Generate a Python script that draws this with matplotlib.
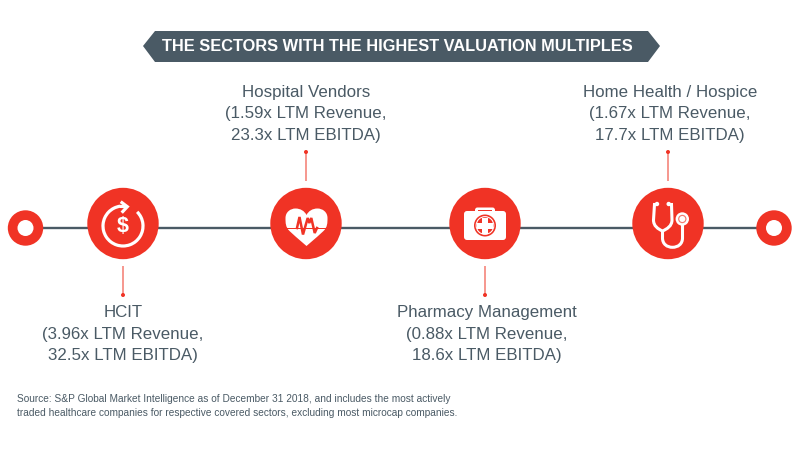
import numpy as np
import matplotlib
matplotlib.use("Agg")
import matplotlib.pyplot as plt
from matplotlib.patches import Circle, Polygon, Arc, FancyBboxPatch, PathPatch, Rectangle
from matplotlib.path import Path

title = "THE SECTORS WITH THE HIGHEST VALUATION MULTIPLES"
sectors = ["HCIT", "Hospital Vendors", "Pharmacy Management", "Home Health / Hospice"]
revenue = ["3.96x", "1.59x", "0.88x", "1.67x"]
ebitda = ["32.5x", "23.3x", "18.6x", "17.7x"]
source = ("Source: S&P Global Market Intelligence as of December 31 2018, and includes the most actively\n"
          "traded healthcare companies for respective covered sectors, excluding most microcap companies.")

RED = "#f03325"
SLATE = "#4a5a65"
PINK = "#f47a70"
FONT = "Liberation Sans"

centers = [123, 306, 485, 668]
cy = 223.5
line_y = 228

fig = plt.figure(figsize=(8, 4.5), dpi=100)
ax = fig.add_axes([0, 0, 1, 1])
ax.set_xlim(0, 800)
ax.set_ylim(450, 0)
ax.axis("off")

M, L, C = Path.MOVETO, Path.LINETO, Path.CURVE4


def bez(start, *segments):
    """Build a path from a start point and line (1 point) / cubic (3 point) segments."""
    verts, codes = [start], [M]
    for seg in segments:
        if len(seg) == 1:
            verts += seg
            codes += [L]
        else:
            verts += seg
            codes += [C, C, C]
    return Path(verts, codes)


# Banner
ax.add_patch(Polygon([(143, 46), (155, 31), (648, 31), (660, 46), (648, 62), (155, 62)],
                     closed=True, fc=SLATE, ec="none"))
ax.text(397, 46.5, title, ha="center", va="center", color="white", fontsize=11.8,
        fontweight="bold", family=FONT)

# Timeline
ax.plot([25, 774], [line_y, line_y], color=SLATE, lw=1.7, solid_capstyle="butt", zorder=1)
for x in (25.5, 774):
    ax.add_patch(Circle((x, line_y), 17.7, fc=RED, ec="none", zorder=2))
    ax.add_patch(Circle((x, line_y), 8, fc="white", ec="none", zorder=3))
for x in centers:
    ax.add_patch(Circle((x, cy), 35.7, fc=RED, ec="none", zorder=2))

Z = 4
# Icon 1: circular arrow with dollar sign
x0, y0 = centers[0], 226
ax.add_patch(Arc((x0, y0), 40, 40, theta1=-45, theta2=262, ec="white", lw=2.3, zorder=Z))
ax.plot([x0 - 2.3, x0 + 4.3, x0 - 1.3], [201.7, 206.7, 212.7], color="white", lw=2.3,
        zorder=Z + 1, solid_joinstyle="miter", solid_capstyle="butt")
ax.plot([x0 - 3, x0 + 3], [206.4, 206.6], color="white", lw=2.3, zorder=Z + 1, solid_capstyle="butt")
ax.text(x0 - 0.5, 226.5, "$", ha="center", va="center", color="white", fontsize=15.5,
        fontweight="bold", family=FONT, zorder=Z)

# Icon 2: heart with pulse
x0 = centers[1] + 0.5
left = [((x0 - 8, 239), (x0 - 14, 234), (x0 - 17, 231)),
        ((x0 - 21, 227), (x0 - 21, 223), (x0 - 21, 218)),
        ((x0 - 21, 212), (x0 - 16, 208.5), (x0 - 11, 208.5)),
        ((x0 - 6, 208.5), (x0 - 2, 211), (x0, 215))]
right = [((x0 + 2, 211), (x0 + 6, 208.5), (x0 + 11, 208.5)),
         ((x0 + 16, 208.5), (x0 + 21, 212), (x0 + 21, 218)),
         ((x0 + 21, 223), (x0 + 21, 227), (x0 + 17, 231)),
         ((x0 + 14, 234), (x0 + 8, 239), (x0, 246))]
heart = bez((x0, 246), *[list(s) for s in left], *[list(s) for s in right])
ax.add_patch(PathPatch(heart, fc="white", ec="none", zorder=Z))
ax.add_patch(Rectangle((x0 - 21.5, 227.5), 43, 1.5, fc=RED, ec="none", zorder=Z + 1))
px = np.array([-9.5, -7, -3.5, 1.2, 2.8, 4.8, 8.2, 10.5])
py = np.array([228, 217, 234.5, 218, 223, 218, 233, 228])
ax.plot(x0 + px, py, color=RED, lw=1.8, zorder=Z + 2, solid_joinstyle="miter")

# Icon 3: medical case
x0 = centers[2]
ax.add_patch(FancyBboxPatch((x0 - 21, 211), 42, 29, boxstyle="round,pad=0,rounding_size=3",
                            fc="white", ec="none", zorder=Z))
ax.add_patch(FancyBboxPatch((x0 - 10, 207.5), 20, 6, boxstyle="round,pad=0,rounding_size=2.5",
                            fc="white", ec="none", zorder=Z))
ax.add_patch(Rectangle((x0 - 7, 209.7), 14, 1.6, fc=RED, ec="none", zorder=Z + 1))
ax.add_patch(Circle((x0, 225.5), 11, fc=RED, ec="none", zorder=Z + 1))
ax.add_patch(Circle((x0, 225.5), 9.4, fc="white", ec="none", zorder=Z + 2))
ax.add_patch(Circle((x0, 225.5), 8.3, fc=RED, ec="none", zorder=Z + 3))
ax.add_patch(Rectangle((x0 - 3, 217.5), 6, 16, fc="white", ec="none", zorder=Z + 4))
ax.add_patch(Rectangle((x0 - 8, 222.5), 16, 6, fc="white", ec="none", zorder=Z + 4))

# Icon 4: stethoscope
x0 = centers[3]
lw = 2.2
fork = bez((x0 - 11, 204.5), [(x0 - 13.5, 204.5)], [(x0 - 14.5, 220)],
           [(x0 - 14.5, 226), (x0 - 10, 229), (x0 - 5.5, 231)],
           [(x0 - 1, 229), (x0 + 4, 226), (x0 + 4, 220)], [(x0 + 3.5, 204.5)], [(x0 + 0.7, 204.5)])
ax.add_patch(PathPatch(fork, fc="none", ec="white", lw=lw, zorder=Z))
tube = bez((x0 - 5.5, 230), [(x0 - 5.5, 238)],
           [(x0 - 5.5, 244), (x0 - 1, 247.3), (x0 + 4.5, 247.3)],
           [(x0 + 10, 247.3), (x0 + 14.5, 244), (x0 + 14.5, 238)], [(x0 + 14.5, 225)])
ax.add_patch(PathPatch(tube, fc="none", ec="white", lw=lw, zorder=Z))
ax.add_patch(Circle((x0 - 11, 204), 2.2, fc="white", ec="none", zorder=Z))
ax.add_patch(Circle((x0 + 0.7, 204), 2.2, fc="white", ec="none", zorder=Z))
ax.add_patch(Circle((x0 + 14.3, 219), 6.7, fc="white", ec="none", zorder=Z + 1))
ax.add_patch(Circle((x0 + 14.3, 219), 4.2, fc="#f47a70", ec="none", zorder=Z + 2))
ax.add_patch(Circle((x0 + 14.3, 219), 3.0, fc="white", ec="none", zorder=Z + 3))

# Labels and leader lines
label_x = [123, 306, 487, 670]
above = [False, True, False, True]
label_y = [305, 84.5, 305, 84.5]
for i, x in enumerate(centers):
    if above[i]:
        y1, y2, yd = 152, 181, 152
    else:
        y1, y2, yd = 266, 295, 295
    ax.plot([x, x], [y1, y2], color=PINK, lw=1.1, solid_capstyle="butt", zorder=1)
    ax.add_patch(Circle((x, yd), 2.0, fc=RED, ec="none", zorder=2))
    txt = f"{sectors[i]}\n({revenue[i]} LTM Revenue,\n{ebitda[i]} LTM EBITDA)"
    ax.text(label_x[i], label_y[i], txt, ha="center", va="top", color=SLATE, fontsize=12.2,
            family=FONT, linespacing=1.55)

ax.text(17, 394, source, ha="left", va="top", color=SLATE, fontsize=7.25, family=FONT, linespacing=1.5)

fig.savefig("out.png", dpi=100, facecolor="white")
